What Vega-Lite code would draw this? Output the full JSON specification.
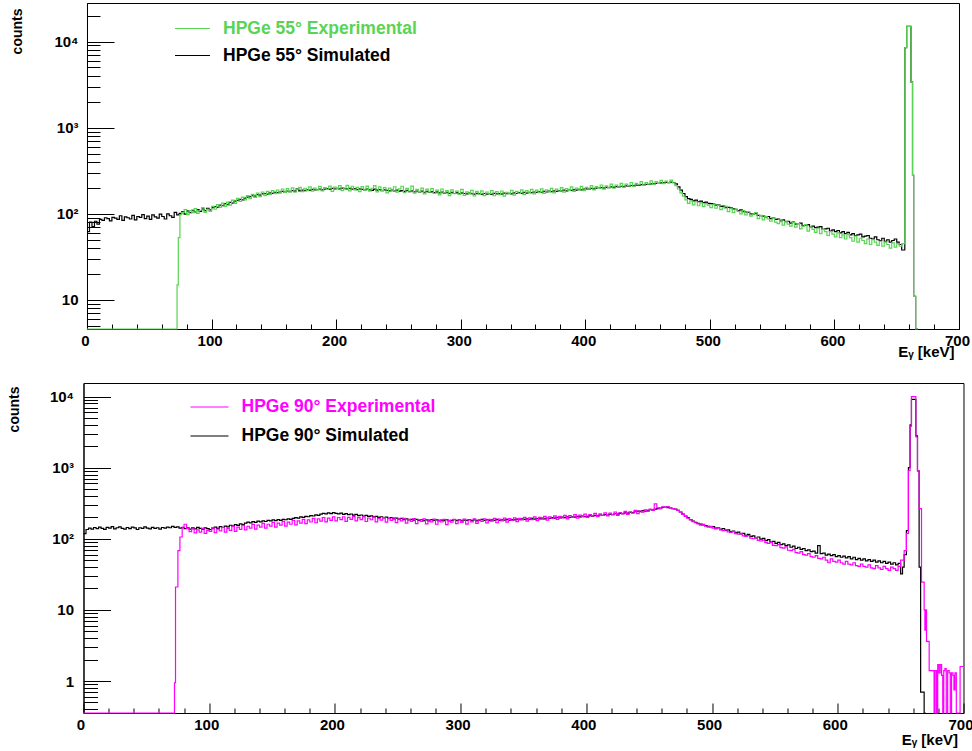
{
  "$schema": "https://vega.github.io/schema/vega-lite/v6.json",
  "background": "white",
  "padding": {"left": 6, "top": 2, "right": 0, "bottom": 0},
  "datasets": {
    "p55": [
      {"e":0,"sim":62,"exp":0},{"e":2,"sim":80,"exp":0},{"e":4,"sim":71,"exp":0},{"e":6,"sim":82,"exp":0},{"e":8,"sim":76,"exp":0},{"e":10,"sim":86,"exp":0},{"e":12,"sim":84,"exp":0},{"e":14,"sim":90,"exp":0},{"e":16,"sim":88,"exp":0},{"e":18,"sim":83,"exp":0},
      {"e":20,"sim":91,"exp":0},{"e":22,"sim":89,"exp":0},{"e":24,"sim":86,"exp":0},{"e":26,"sim":95,"exp":0},{"e":28,"sim":84,"exp":0},{"e":30,"sim":92,"exp":0},{"e":32,"sim":90,"exp":0},{"e":34,"sim":87,"exp":0},{"e":36,"sim":96,"exp":0},{"e":38,"sim":85,"exp":0},
      {"e":40,"sim":93,"exp":0},{"e":42,"sim":91,"exp":0},{"e":44,"sim":98,"exp":0},{"e":46,"sim":88,"exp":0},{"e":48,"sim":94,"exp":0},{"e":50,"sim":86,"exp":0},{"e":52,"sim":97,"exp":0},{"e":54,"sim":92,"exp":0},{"e":56,"sim":89,"exp":0},{"e":58,"sim":99,"exp":0},
      {"e":60,"sim":93,"exp":0},{"e":62,"sim":87,"exp":0},{"e":64,"sim":100,"exp":0},{"e":66,"sim":95,"exp":0},{"e":68,"sim":91,"exp":0},{"e":70,"sim":104,"exp":0},{"e":72,"sim":97,"exp":0},{"e":72.3,"sim":97,"exp":15},{"e":73.3,"sim":97,"exp":53},{"e":74,"sim":101,"exp":53},{"e":74.6,"sim":101,"exp":98},
      {"e":76,"sim":106,"exp":104},{"e":78,"sim":99,"exp":112},{"e":80,"sim":108,"exp":98},{"e":82,"sim":103,"exp":109},{"e":84,"sim":110,"exp":103},{"e":86,"sim":105,"exp":115},{"e":88,"sim":112,"exp":101},{"e":90,"sim":107,"exp":110},{"e":92,"sim":114,"exp":118},{"e":94,"sim":109,"exp":104},
      {"e":96,"sim":116,"exp":113},{"e":98,"sim":111,"exp":107},{"e":100,"sim":118,"exp":122},{"e":102,"sim":121,"exp":113},{"e":104,"sim":119,"exp":128},{"e":106,"sim":126,"exp":119},{"e":108,"sim":124,"exp":133},{"e":110,"sim":131,"exp":122},{"e":112,"sim":128,"exp":137},{"e":114,"sim":136,"exp":126},
      {"e":116,"sim":133,"exp":144},{"e":118,"sim":140,"exp":132},{"e":120,"sim":143,"exp":151},{"e":122,"sim":147,"exp":139},{"e":124,"sim":145,"exp":156},{"e":126,"sim":152,"exp":145},{"e":128,"sim":156,"exp":163},{"e":130,"sim":158,"exp":150},{"e":132,"sim":162,"exp":168},{"e":134,"sim":160,"exp":155},
      {"e":136,"sim":167,"exp":174},{"e":138,"sim":165,"exp":158},{"e":140,"sim":170,"exp":179},{"e":142,"sim":172,"exp":163},{"e":144,"sim":169,"exp":182},{"e":146,"sim":175,"exp":168},{"e":148,"sim":173,"exp":186},{"e":150,"sim":178,"exp":171},{"e":152,"sim":176,"exp":189},{"e":154,"sim":179,"exp":174},
      {"e":156,"sim":182,"exp":194},{"e":158,"sim":177,"exp":177},{"e":160,"sim":184,"exp":196},{"e":162,"sim":181,"exp":180},{"e":164,"sim":186,"exp":200},{"e":166,"sim":183,"exp":178},{"e":168,"sim":195,"exp":193},{"e":170,"sim":185,"exp":203},{"e":172,"sim":188,"exp":181},{"e":174,"sim":186,"exp":198},
      {"e":176,"sim":190,"exp":186},{"e":178,"sim":187,"exp":205},{"e":180,"sim":192,"exp":183},{"e":182,"sim":189,"exp":199},{"e":184,"sim":191,"exp":190},{"e":186,"sim":194,"exp":208},{"e":188,"sim":190,"exp":184},{"e":190,"sim":193,"exp":201},{"e":192,"sim":196,"exp":192},{"e":194,"sim":192,"exp":210},
      {"e":196,"sim":197,"exp":182},{"e":198,"sim":194,"exp":204},{"e":200,"sim":198,"exp":195},{"e":202,"sim":195,"exp":212},{"e":204,"sim":199,"exp":186},{"e":206,"sim":196,"exp":199},{"e":208,"sim":194,"exp":214},{"e":210,"sim":197,"exp":185},{"e":212,"sim":193,"exp":209},{"e":214,"sim":196,"exp":190},
      {"e":216,"sim":191,"exp":203},{"e":218,"sim":195,"exp":181},{"e":220,"sim":192,"exp":207},{"e":222,"sim":189,"exp":188},{"e":224,"sim":194,"exp":210},{"e":226,"sim":190,"exp":183},{"e":228,"sim":187,"exp":198},{"e":230,"sim":193,"exp":212},{"e":232,"sim":188,"exp":180},{"e":234,"sim":191,"exp":205},
      {"e":236,"sim":186,"exp":186},{"e":238,"sim":190,"exp":201},{"e":240,"sim":187,"exp":175},{"e":242,"sim":185,"exp":199},{"e":244,"sim":189,"exp":184},{"e":246,"sim":184,"exp":206},{"e":248,"sim":188,"exp":178},{"e":250,"sim":183,"exp":195},{"e":252,"sim":186,"exp":209},{"e":254,"sim":182,"exp":176},
      {"e":256,"sim":187,"exp":197},{"e":258,"sim":181,"exp":183},{"e":260,"sim":185,"exp":210},{"e":262,"sim":180,"exp":174},{"e":264,"sim":184,"exp":192},{"e":266,"sim":179,"exp":181},{"e":268,"sim":183,"exp":199},{"e":270,"sim":178,"exp":170},{"e":272,"sim":182,"exp":193},{"e":274,"sim":177,"exp":178},
      {"e":276,"sim":181,"exp":196},{"e":278,"sim":176,"exp":172},{"e":280,"sim":180,"exp":188},{"e":282,"sim":175,"exp":166},{"e":284,"sim":179,"exp":194},{"e":286,"sim":174,"exp":175},{"e":288,"sim":178,"exp":186},{"e":290,"sim":173,"exp":163},{"e":292,"sim":177,"exp":190},{"e":294,"sim":172,"exp":171},
      {"e":296,"sim":176,"exp":183},{"e":298,"sim":171,"exp":168},{"e":300,"sim":175,"exp":192},{"e":302,"sim":172,"exp":164},{"e":304,"sim":170,"exp":180},{"e":306,"sim":174,"exp":170},{"e":308,"sim":171,"exp":187},{"e":310,"sim":169,"exp":161},{"e":312,"sim":173,"exp":182},{"e":314,"sim":170,"exp":168},
      {"e":316,"sim":168,"exp":185},{"e":318,"sim":172,"exp":163},{"e":320,"sim":169,"exp":179},{"e":322,"sim":171,"exp":170},{"e":324,"sim":168,"exp":186},{"e":326,"sim":173,"exp":162},{"e":328,"sim":170,"exp":181},{"e":330,"sim":172,"exp":167},{"e":332,"sim":169,"exp":184},{"e":334,"sim":174,"exp":160},
      {"e":336,"sim":171,"exp":178},{"e":338,"sim":173,"exp":171},{"e":340,"sim":170,"exp":187},{"e":342,"sim":175,"exp":165},{"e":344,"sim":172,"exp":182},{"e":346,"sim":176,"exp":173},{"e":348,"sim":173,"exp":190},{"e":350,"sim":177,"exp":167},{"e":352,"sim":174,"exp":186},{"e":354,"sim":178,"exp":175},
      {"e":356,"sim":176,"exp":192},{"e":358,"sim":179,"exp":170},{"e":360,"sim":177,"exp":188},{"e":362,"sim":180,"exp":176},{"e":364,"sim":178,"exp":195},{"e":366,"sim":182,"exp":172},{"e":368,"sim":179,"exp":190},{"e":370,"sim":183,"exp":180},{"e":372,"sim":181,"exp":197},{"e":374,"sim":185,"exp":175},
      {"e":376,"sim":182,"exp":193},{"e":378,"sim":186,"exp":184},{"e":380,"sim":184,"exp":201},{"e":382,"sim":188,"exp":178},{"e":384,"sim":185,"exp":196},{"e":386,"sim":189,"exp":187},{"e":388,"sim":187,"exp":205},{"e":390,"sim":191,"exp":182},{"e":392,"sim":188,"exp":199},{"e":394,"sim":192,"exp":190},
      {"e":396,"sim":190,"exp":208},{"e":398,"sim":194,"exp":186},{"e":400,"sim":195,"exp":203},{"e":402,"sim":193,"exp":193},{"e":404,"sim":197,"exp":212},{"e":406,"sim":195,"exp":189},{"e":408,"sim":199,"exp":207},{"e":410,"sim":197,"exp":197},{"e":412,"sim":201,"exp":216},{"e":414,"sim":199,"exp":193},
      {"e":416,"sim":203,"exp":211},{"e":418,"sim":201,"exp":201},{"e":420,"sim":205,"exp":221},{"e":422,"sim":203,"exp":198},{"e":424,"sim":207,"exp":216},{"e":426,"sim":205,"exp":206},{"e":428,"sim":209,"exp":226},{"e":430,"sim":207,"exp":203},{"e":432,"sim":211,"exp":221},{"e":434,"sim":209,"exp":211},
      {"e":436,"sim":213,"exp":231},{"e":438,"sim":212,"exp":208},{"e":440,"sim":215,"exp":226},{"e":442,"sim":214,"exp":216},{"e":444,"sim":218,"exp":236},{"e":446,"sim":216,"exp":213},{"e":448,"sim":220,"exp":231},{"e":450,"sim":219,"exp":221},{"e":452,"sim":223,"exp":241},{"e":454,"sim":222,"exp":219},
      {"e":456,"sim":226,"exp":236},{"e":458,"sim":225,"exp":226},{"e":460,"sim":229,"exp":244},{"e":462,"sim":228,"exp":224},{"e":464,"sim":232,"exp":240},{"e":466,"sim":230,"exp":230},{"e":468,"sim":233,"exp":246},{"e":470,"sim":231,"exp":228},{"e":472,"sim":222,"exp":212},{"e":474,"sim":205,"exp":194},
      {"e":476,"sim":188,"exp":175},{"e":478,"sim":172,"exp":160},{"e":480,"sim":158,"exp":145},{"e":482,"sim":150,"exp":132},{"e":484,"sim":147,"exp":141},{"e":486,"sim":141,"exp":127},{"e":488,"sim":144,"exp":138},{"e":490,"sim":138,"exp":124},{"e":492,"sim":140,"exp":134},{"e":494,"sim":135,"exp":121},
      {"e":496,"sim":137,"exp":131},{"e":498,"sim":132,"exp":126},{"e":500,"sim":131,"exp":118},{"e":502,"sim":130,"exp":128},{"e":504,"sim":126,"exp":116},{"e":506,"sim":127,"exp":126},{"e":508,"sim":122,"exp":112},{"e":510,"sim":123,"exp":117},{"e":512,"sim":118,"exp":122},{"e":514,"sim":119,"exp":106},
      {"e":516,"sim":117,"exp":116},{"e":518,"sim":114,"exp":103},{"e":520,"sim":113,"exp":113},{"e":522,"sim":109,"exp":107},{"e":524,"sim":111,"exp":100},{"e":526,"sim":106,"exp":109},{"e":528,"sim":105,"exp":97},{"e":530,"sim":104,"exp":106},{"e":532,"sim":100,"exp":94},{"e":534,"sim":99,"exp":99},
      {"e":536,"sim":101,"exp":103},{"e":538,"sim":96,"exp":88},{"e":540,"sim":95,"exp":96},{"e":542,"sim":94,"exp":85},{"e":544,"sim":92,"exp":93},{"e":546,"sim":93,"exp":87},{"e":548,"sim":88,"exp":82},{"e":550,"sim":90,"exp":90},{"e":552,"sim":86,"exp":80},{"e":554,"sim":87,"exp":77},
      {"e":556,"sim":83,"exp":85},{"e":558,"sim":85,"exp":74},{"e":560,"sim":81,"exp":82},{"e":562,"sim":82,"exp":76},{"e":564,"sim":78,"exp":72},{"e":566,"sim":80,"exp":79},{"e":568,"sim":76,"exp":70},{"e":570,"sim":77,"exp":77},{"e":572,"sim":78,"exp":67},{"e":574,"sim":73,"exp":72},
      {"e":576,"sim":74,"exp":75},{"e":578,"sim":75,"exp":63},{"e":580,"sim":70,"exp":70},{"e":582,"sim":72,"exp":66},{"e":584,"sim":69,"exp":61},{"e":586,"sim":70,"exp":68},{"e":588,"sim":71,"exp":59},{"e":590,"sim":66,"exp":66},{"e":592,"sim":67,"exp":62},{"e":594,"sim":68,"exp":56},
      {"e":596,"sim":63,"exp":62},{"e":598,"sim":65,"exp":58},{"e":600,"sim":62,"exp":54},{"e":602,"sim":64,"exp":60},{"e":604,"sim":60,"exp":53},{"e":606,"sim":62,"exp":57},{"e":608,"sim":59,"exp":51},{"e":610,"sim":61,"exp":58},{"e":612,"sim":57,"exp":53},{"e":614,"sim":59,"exp":48},
      {"e":616,"sim":56,"exp":55},{"e":618,"sim":57,"exp":47},{"e":620,"sim":58,"exp":52},{"e":622,"sim":54,"exp":49},{"e":624,"sim":55,"exp":45},{"e":626,"sim":56,"exp":51},{"e":628,"sim":52,"exp":44},{"e":630,"sim":51,"exp":50},{"e":632,"sim":54,"exp":47},{"e":634,"sim":50,"exp":43},
      {"e":636,"sim":49,"exp":48},{"e":638,"sim":52,"exp":42},{"e":640,"sim":48,"exp":47},{"e":642,"sim":50,"exp":44},{"e":644,"sim":47,"exp":40},{"e":646,"sim":49,"exp":46},{"e":648,"sim":51,"exp":41},{"e":650,"sim":47,"exp":45},{"e":652,"sim":44,"exp":42},{"e":654,"sim":38,"exp":45},
      {"e":656.5,"sim":8500,"exp":8500},{"e":658,"sim":15000,"exp":15000},{"e":661.4,"sim":3400,"exp":3400},{"e":662.7,"sim":280,"exp":280},{"e":663.6,"sim":11,"exp":11},{"e":665.2,"sim":0,"exp":0},{"e":667,"sim":0,"exp":0}
    ],
    "p90": [
      {"e":0,"sim":118,"exp":0},{"e":2,"sim":135,"exp":0},{"e":4,"sim":141,"exp":0},{"e":6,"sim":137,"exp":0},{"e":8,"sim":144,"exp":0},{"e":10,"sim":139,"exp":0},{"e":12,"sim":146,"exp":0},{"e":14,"sim":140,"exp":0},{"e":16,"sim":136,"exp":0},{"e":18,"sim":145,"exp":0},
      {"e":20,"sim":141,"exp":0},{"e":22,"sim":148,"exp":0},{"e":24,"sim":138,"exp":0},{"e":26,"sim":143,"exp":0},{"e":28,"sim":147,"exp":0},{"e":30,"sim":140,"exp":0},{"e":32,"sim":137,"exp":0},{"e":34,"sim":144,"exp":0},{"e":36,"sim":139,"exp":0},{"e":38,"sim":146,"exp":0},
      {"e":40,"sim":142,"exp":0},{"e":42,"sim":135,"exp":0},{"e":44,"sim":143,"exp":0},{"e":46,"sim":140,"exp":0},{"e":48,"sim":147,"exp":0},{"e":50,"sim":141,"exp":0},{"e":52,"sim":138,"exp":0},{"e":54,"sim":145,"exp":0},{"e":56,"sim":140,"exp":0},{"e":58,"sim":143,"exp":0},
      {"e":60,"sim":137,"exp":0},{"e":62,"sim":144,"exp":0},{"e":64,"sim":141,"exp":0},{"e":66,"sim":146,"exp":0},{"e":68,"sim":143,"exp":0},{"e":70,"sim":149,"exp":0},{"e":72,"sim":145,"exp":0},{"e":72.4,"sim":145,"exp":0.94},{"e":73.2,"sim":145,"exp":21},{"e":74,"sim":147,"exp":21},
      {"e":75.1,"sim":147,"exp":68},{"e":76,"sim":141,"exp":68},{"e":76.7,"sim":141,"exp":106},{"e":78,"sim":144,"exp":106},{"e":78.5,"sim":144,"exp":146},{"e":80,"sim":139,"exp":160},{"e":82,"sim":143,"exp":140},{"e":84,"sim":137,"exp":126},{"e":86,"sim":142,"exp":138},{"e":88,"sim":138,"exp":121},
      {"e":90,"sim":145,"exp":133},{"e":92,"sim":140,"exp":124},{"e":94,"sim":136,"exp":140},{"e":96,"sim":142,"exp":119},{"e":98,"sim":139,"exp":131},{"e":100,"sim":135,"exp":127},{"e":102,"sim":141,"exp":142},{"e":104,"sim":146,"exp":122},{"e":106,"sim":140,"exp":137},{"e":108,"sim":148,"exp":129},
      {"e":110,"sim":144,"exp":145},{"e":112,"sim":151,"exp":124},{"e":114,"sim":147,"exp":140},{"e":116,"sim":155,"exp":131},{"e":118,"sim":151,"exp":149},{"e":120,"sim":158,"exp":127},{"e":122,"sim":154,"exp":146},{"e":124,"sim":162,"exp":136},{"e":126,"sim":158,"exp":154},{"e":128,"sim":166,"exp":133},
      {"e":130,"sim":171,"exp":150},{"e":132,"sim":167,"exp":141},{"e":134,"sim":174,"exp":159},{"e":136,"sim":170,"exp":137},{"e":138,"sim":177,"exp":156},{"e":140,"sim":173,"exp":146},{"e":142,"sim":179,"exp":165},{"e":144,"sim":175,"exp":141},{"e":146,"sim":182,"exp":160},{"e":148,"sim":178,"exp":151},
      {"e":150,"sim":184,"exp":170},{"e":152,"sim":180,"exp":146},{"e":154,"sim":186,"exp":166},{"e":156,"sim":182,"exp":156},{"e":158,"sim":188,"exp":176},{"e":160,"sim":185,"exp":151},{"e":162,"sim":191,"exp":171},{"e":164,"sim":187,"exp":160},{"e":166,"sim":194,"exp":181},{"e":168,"sim":198,"exp":157},
      {"e":170,"sim":195,"exp":178},{"e":172,"sim":203,"exp":166},{"e":174,"sim":200,"exp":188},{"e":176,"sim":207,"exp":163},{"e":178,"sim":204,"exp":184},{"e":180,"sim":212,"exp":172},{"e":182,"sim":209,"exp":193},{"e":184,"sim":217,"exp":168},{"e":186,"sim":214,"exp":190},{"e":188,"sim":222,"exp":177},
      {"e":190,"sim":227,"exp":199},{"e":192,"sim":224,"exp":173},{"e":194,"sim":231,"exp":195},{"e":196,"sim":226,"exp":182},{"e":198,"sim":233,"exp":203},{"e":200,"sim":228,"exp":178},{"e":202,"sim":224,"exp":199},{"e":204,"sim":230,"exp":186},{"e":206,"sim":221,"exp":204},{"e":208,"sim":226,"exp":176},
      {"e":210,"sim":218,"exp":200},{"e":212,"sim":223,"exp":188},{"e":214,"sim":215,"exp":205},{"e":216,"sim":220,"exp":179},{"e":218,"sim":212,"exp":198},{"e":220,"sim":216,"exp":186},{"e":222,"sim":209,"exp":203},{"e":224,"sim":213,"exp":175},{"e":226,"sim":206,"exp":196},{"e":228,"sim":210,"exp":185},
      {"e":230,"sim":203,"exp":201},{"e":232,"sim":207,"exp":173},{"e":234,"sim":200,"exp":194},{"e":236,"sim":204,"exp":183},{"e":238,"sim":197,"exp":199},{"e":240,"sim":201,"exp":171},{"e":242,"sim":194,"exp":192},{"e":244,"sim":198,"exp":181},{"e":246,"sim":191,"exp":197},{"e":248,"sim":195,"exp":169},
      {"e":250,"sim":189,"exp":190},{"e":252,"sim":193,"exp":179},{"e":254,"sim":186,"exp":194},{"e":256,"sim":190,"exp":166},{"e":258,"sim":184,"exp":188},{"e":260,"sim":188,"exp":176},{"e":262,"sim":183,"exp":192},{"e":264,"sim":187,"exp":163},{"e":266,"sim":181,"exp":186},{"e":268,"sim":185,"exp":175},
      {"e":270,"sim":180,"exp":190},{"e":272,"sim":184,"exp":162},{"e":274,"sim":179,"exp":184},{"e":276,"sim":186,"exp":173},{"e":278,"sim":181,"exp":189},{"e":280,"sim":184,"exp":160},{"e":282,"sim":178,"exp":183},{"e":284,"sim":183,"exp":172},{"e":286,"sim":180,"exp":188},{"e":288,"sim":185,"exp":158},
      {"e":290,"sim":179,"exp":182},{"e":292,"sim":182,"exp":171},{"e":294,"sim":186,"exp":187},{"e":296,"sim":180,"exp":163},{"e":298,"sim":184,"exp":185},{"e":300,"sim":178,"exp":170},{"e":302,"sim":183,"exp":189},{"e":304,"sim":181,"exp":161},{"e":306,"sim":186,"exp":184},{"e":308,"sim":180,"exp":173},
      {"e":310,"sim":184,"exp":190},{"e":312,"sim":179,"exp":165},{"e":314,"sim":183,"exp":186},{"e":316,"sim":187,"exp":175},{"e":318,"sim":181,"exp":191},{"e":320,"sim":185,"exp":167},{"e":322,"sim":180,"exp":188},{"e":324,"sim":184,"exp":177},{"e":326,"sim":182,"exp":193},{"e":328,"sim":187,"exp":168},
      {"e":330,"sim":181,"exp":189},{"e":332,"sim":185,"exp":178},{"e":334,"sim":183,"exp":195},{"e":336,"sim":188,"exp":171},{"e":338,"sim":182,"exp":192},{"e":340,"sim":186,"exp":181},{"e":342,"sim":184,"exp":197},{"e":344,"sim":189,"exp":174},{"e":346,"sim":185,"exp":194},{"e":348,"sim":190,"exp":184},
      {"e":350,"sim":187,"exp":200},{"e":352,"sim":191,"exp":177},{"e":354,"sim":188,"exp":197},{"e":356,"sim":193,"exp":186},{"e":358,"sim":189,"exp":203},{"e":360,"sim":192,"exp":180},{"e":362,"sim":190,"exp":200},{"e":364,"sim":195,"exp":189},{"e":366,"sim":191,"exp":206},{"e":368,"sim":196,"exp":183},
      {"e":370,"sim":193,"exp":203},{"e":372,"sim":198,"exp":193},{"e":374,"sim":195,"exp":210},{"e":376,"sim":200,"exp":187},{"e":378,"sim":196,"exp":207},{"e":380,"sim":201,"exp":196},{"e":382,"sim":198,"exp":213},{"e":384,"sim":203,"exp":191},{"e":386,"sim":199,"exp":211},{"e":388,"sim":204,"exp":200},
      {"e":390,"sim":201,"exp":218},{"e":392,"sim":206,"exp":195},{"e":394,"sim":203,"exp":215},{"e":396,"sim":208,"exp":205},{"e":398,"sim":204,"exp":222},{"e":400,"sim":207,"exp":200},{"e":402,"sim":211,"exp":219},{"e":404,"sim":208,"exp":209},{"e":406,"sim":214,"exp":227},{"e":408,"sim":210,"exp":204},
      {"e":410,"sim":216,"exp":224},{"e":412,"sim":213,"exp":214},{"e":414,"sim":219,"exp":232},{"e":416,"sim":216,"exp":209},{"e":418,"sim":222,"exp":229},{"e":420,"sim":219,"exp":219},{"e":422,"sim":225,"exp":238},{"e":424,"sim":222,"exp":214},{"e":426,"sim":228,"exp":234},{"e":428,"sim":225,"exp":224},
      {"e":430,"sim":232,"exp":243},{"e":432,"sim":229,"exp":220},{"e":434,"sim":236,"exp":240},{"e":436,"sim":233,"exp":230},{"e":438,"sim":240,"exp":250},{"e":440,"sim":244,"exp":226},{"e":442,"sim":241,"exp":246},{"e":444,"sim":248,"exp":237},{"e":446,"sim":245,"exp":256},{"e":448,"sim":252,"exp":243},
      {"e":450,"sim":256,"exp":262},{"e":452,"sim":253,"exp":251},{"e":454,"sim":261,"exp":310},{"e":456,"sim":265,"exp":272},{"e":458,"sim":270,"exp":266},{"e":460,"sim":276,"exp":280},{"e":462,"sim":279,"exp":276},{"e":464,"sim":274,"exp":283},{"e":466,"sim":271,"exp":272},{"e":468,"sim":266,"exp":265},
      {"e":470,"sim":262,"exp":258},{"e":472,"sim":252,"exp":250},{"e":474,"sim":238,"exp":236},{"e":476,"sim":222,"exp":220},{"e":478,"sim":208,"exp":206},{"e":480,"sim":198,"exp":195},{"e":482,"sim":186,"exp":184},{"e":484,"sim":177,"exp":174},{"e":486,"sim":170,"exp":168},{"e":488,"sim":165,"exp":162},
      {"e":490,"sim":161,"exp":156},{"e":492,"sim":157,"exp":160},{"e":494,"sim":153,"exp":150},{"e":496,"sim":150,"exp":146},{"e":498,"sim":147,"exp":149},{"e":500,"sim":148,"exp":141},{"e":502,"sim":141,"exp":138},{"e":504,"sim":143,"exp":141},{"e":506,"sim":136,"exp":133},{"e":508,"sim":139,"exp":130},
      {"e":510,"sim":131,"exp":133},{"e":512,"sim":133,"exp":125},{"e":514,"sim":126,"exp":123},{"e":516,"sim":128,"exp":126},{"e":518,"sim":121,"exp":118},{"e":520,"sim":124,"exp":116},{"e":522,"sim":117,"exp":119},{"e":524,"sim":119,"exp":110},{"e":526,"sim":112,"exp":108},{"e":528,"sim":115,"exp":111},
      {"e":530,"sim":108,"exp":102},{"e":532,"sim":110,"exp":100},{"e":534,"sim":103,"exp":104},{"e":536,"sim":106,"exp":95},{"e":538,"sim":99,"exp":93},{"e":540,"sim":101,"exp":96},{"e":542,"sim":94,"exp":88},{"e":544,"sim":97,"exp":86},{"e":546,"sim":90,"exp":89},{"e":548,"sim":92,"exp":81},
      {"e":550,"sim":86,"exp":80},{"e":552,"sim":89,"exp":83},{"e":554,"sim":83,"exp":75},{"e":556,"sim":85,"exp":74},{"e":558,"sim":80,"exp":77},{"e":560,"sim":82,"exp":69},{"e":562,"sim":76,"exp":68},{"e":564,"sim":79,"exp":71},{"e":566,"sim":73,"exp":64},{"e":568,"sim":76,"exp":63},
      {"e":570,"sim":71,"exp":66},{"e":572,"sim":73,"exp":60},{"e":574,"sim":68,"exp":59},{"e":576,"sim":70,"exp":62},{"e":578,"sim":66,"exp":56},{"e":580,"sim":67,"exp":55},{"e":582,"sim":63,"exp":58},{"e":584,"sim":80,"exp":53},{"e":586,"sim":62,"exp":52},{"e":588,"sim":63,"exp":55},
      {"e":590,"sim":59,"exp":50},{"e":592,"sim":61,"exp":46},{"e":594,"sim":58,"exp":52},{"e":596,"sim":60,"exp":48},{"e":598,"sim":56,"exp":47},{"e":600,"sim":58,"exp":50},{"e":602,"sim":55,"exp":46},{"e":604,"sim":57,"exp":44},{"e":606,"sim":54,"exp":48},{"e":608,"sim":56,"exp":44},
      {"e":610,"sim":52,"exp":43},{"e":612,"sim":55,"exp":46},{"e":614,"sim":51,"exp":42},{"e":616,"sim":53,"exp":41},{"e":618,"sim":50,"exp":44},{"e":620,"sim":52,"exp":41},{"e":622,"sim":49,"exp":40},{"e":624,"sim":51,"exp":43},{"e":626,"sim":48,"exp":39},{"e":628,"sim":50,"exp":38},
      {"e":630,"sim":47,"exp":42},{"e":632,"sim":49,"exp":39},{"e":634,"sim":46,"exp":37},{"e":636,"sim":48,"exp":41},{"e":638,"sim":45,"exp":38},{"e":640,"sim":47,"exp":36},{"e":642,"sim":44,"exp":40},{"e":644,"sim":46,"exp":38},{"e":646,"sim":43,"exp":36},{"e":648,"sim":45,"exp":41},
      {"e":650,"sim":32,"exp":50},{"e":651.5,"sim":40,"exp":50},{"e":652.8,"sim":60,"exp":68},{"e":654.6,"sim":130,"exp":119},{"e":656.2,"sim":1000,"exp":910},{"e":657.5,"sim":4000,"exp":3800},{"e":658.6,"sim":9100,"exp":10000},{"e":662.1,"sim":2800,"exp":2700},{"e":663.4,"sim":900,"exp":910},{"e":664.7,"sim":40,"exp":265},
      {"e":665.9,"sim":0.7,"exp":265},{"e":666.6,"sim":0.7,"exp":24.6},{"e":668.7,"sim":0,"exp":10},{"e":669.3,"sim":0,"exp":5.2},{"e":669.9,"sim":0,"exp":10},{"e":670.6,"exp":3.6},{"e":672.7,"exp":1.4},{"e":676.6,"exp":0},{"e":677.4,"exp":1.4},{"e":678.6,"exp":0},
      {"e":679.5,"exp":1.7},{"e":680.5,"exp":1.3},{"e":681.5,"exp":1.7},{"e":682.6,"exp":1.2},{"e":683.5,"exp":0},{"e":684.3,"exp":1.4},{"e":685.2,"exp":1.5},{"e":686.3,"exp":0},{"e":687.4,"exp":1.4},{"e":688.6,"exp":1.3},
      {"e":689.5,"exp":0},{"e":690.5,"exp":1.3},{"e":691.6,"exp":1.2},{"e":692.4,"exp":0.75},{"e":693.2,"exp":1.3},{"e":694.3,"exp":0},{"e":697.3,"exp":1.6},{"e":700,"exp":1.6}
    ]
  },
  "config": {
    "font": "Liberation Sans",
    "view": {"stroke": "black", "strokeWidth": 1},
    "axis": {
      "grid": false, "domainColor": "black", "domainWidth": 1, "tickColor": "black", "tickWidth": 1,
      "labelFont": "Liberation Sans", "labelFontWeight": "bold", "labelFontSize": 15, "labelColor": "black",
      "labelOverlap": false, "labelBound": false, "labelFlush": false,
      "titleFont": "Liberation Sans", "titleFontWeight": "bold", "titleFontSize": 14, "titleColor": "black"
    },
    "legend": {
      "labelFont": "Liberation Sans", "labelFontSize": 17.5, "labelFontWeight": "bold", "labelLimit": 400,
      "symbolType": "stroke", "symbolStrokeWidth": 2, "padding": 0, "offset": 0, "rowPadding": 0
    },
    "line": {"strokeWidth": 1.2, "interpolate": "step-after"}
  },
  "spacing": 22,
  "center": true,
  "resolve": {
    "scale": {"x": "independent", "y": "independent", "color": "independent"},
    "axis": {"x": "independent", "y": "independent"},
    "legend": {"color": "independent"}
  },
  "vconcat": [
    {
      "width": 872,
      "height": 326,
      "data": {"name": "p55"},
      "encoding": {
        "x": {
          "field": "e", "type": "quantitative",
          "scale": {"domain": [0, 700], "nice": false, "zero": false},
          "axis": {
            "values": [0,20,40,60,80,100,120,140,160,180,200,220,240,260,280,300,320,340,360,380,400,420,440,460,480,500,520,540,560,580,600,620,640,660,680,700],
            "labelExpr": "datum.value % 100 === 0 ? datum.label : ''",
            "tickSize": {"condition": {"test": "datum.value % 100 === 0", "value": -10}, "value": -5},
            "labelPadding": 14, "labelOffset": -2,
            "title": "Eᵧ [keV]", "titleX": 867, "titleY": 22, "titleAlign": "right", "titleBaseline": "middle", "titleFontSize": 15
          }
        }
      },
      "layer": [
        {
          "mark": {"type": "line", "color": "black"},
          "encoding": {
            "y": {
              "field": "sim", "type": "quantitative", "title": "counts",
              "scale": {"type": "log", "domain": [4.6, 28000], "nice": false, "clamp": true},
              "axis": {
                "values": [5,6,7,8,9,10,20,30,40,50,60,70,80,90,100,200,300,400,500,600,700,800,900,1000,2000,3000,4000,5000,6000,7000,8000,9000,10000,20000],
                "labelExpr": "datum.value === 10 ? '10' : datum.value === 100 ? '10²' : datum.value === 1000 ? '10³' : datum.value === 10000 ? '10⁴' : ''",
                "tickSize": {"condition": {"test": "indexof([10,100,1000,10000], datum.value) >= 0", "value": -27}, "value": -13},
                "labelPadding": 36,
                "titleX": -69, "titleY": 5, "titleAngle": 270, "titleAlign": "right", "titleBaseline": "middle"
              }
            },
            "color": {
              "datum": "HPGe 55° Simulated",
              "scale": {"domain": ["HPGe 55° Experimental", "HPGe 55° Simulated"], "range": ["#59d454", "#000000"]},
              "legend": {
                "orient": "none", "legendX": 87, "legendY": 7, "title": null,
                "symbolSize": 1225, "labelOffset": 12,
                "labelColor": {"expr": "datum.value === 'HPGe 55° Experimental' ? '#59d454' : '#000000'"}
              }
            }
          }
        },
        {
          "mark": {"type": "line"},
          "encoding": {
            "y": {"field": "exp", "type": "quantitative", "title": "counts"},
            "color": {"datum": "HPGe 55° Experimental"}
          }
        }
      ]
    },
    {
      "width": 880,
      "height": 330,
      "data": {"name": "p90"},
      "encoding": {
        "x": {
          "field": "e", "type": "quantitative",
          "scale": {"domain": [0, 700], "nice": false, "zero": false},
          "axis": {
            "values": [0,20,40,60,80,100,120,140,160,180,200,220,240,260,280,300,320,340,360,380,400,420,440,460,480,500,520,540,560,580,600,620,640,660,680,700],
            "labelExpr": "datum.value % 100 === 0 ? datum.label : ''",
            "tickSize": {"condition": {"test": "datum.value % 100 === 0", "value": -10}, "value": -5},
            "labelPadding": 14, "labelOffset": -3,
            "title": "Eᵧ [keV]", "titleX": 874, "titleY": 26, "titleAlign": "right", "titleBaseline": "middle", "titleFontSize": 15
          }
        }
      },
      "layer": [
        {
          "mark": {"type": "line", "color": "black"},
          "encoding": {
            "y": {
              "field": "sim", "type": "quantitative", "title": "counts",
              "scale": {"type": "log", "domain": [0.355, 15500], "nice": false, "clamp": true},
              "axis": {
                "values": [0.4,0.5,0.6,0.7,0.8,0.9,1,2,3,4,5,6,7,8,9,10,20,30,40,50,60,70,80,90,100,200,300,400,500,600,700,800,900,1000,2000,3000,4000,5000,6000,7000,8000,9000,10000],
                "labelExpr": "datum.value === 1 ? '1' : datum.value === 10 ? '10' : datum.value === 100 ? '10²' : datum.value === 1000 ? '10³' : datum.value === 10000 ? '10⁴' : ''",
                "tickSize": {"condition": {"test": "indexof([1,10,100,1000,10000], datum.value) >= 0", "value": -27}, "value": -14},
                "labelPadding": 37,
                "titleX": -69, "titleY": 3, "titleAngle": 270, "titleAlign": "right", "titleBaseline": "middle"
              }
            },
            "color": {
              "datum": "HPGe 90° Simulated",
              "scale": {"domain": ["HPGe 90° Experimental", "HPGe 90° Simulated"], "range": ["#ff00ff", "#000000"]},
              "legend": {
                "orient": "none", "legendX": 106, "legendY": 4, "title": null,
                "symbolSize": 1444, "labelOffset": 12,
                "labelColor": {"expr": "datum.value === 'HPGe 90° Experimental' ? '#ff00ff' : '#000000'"}
              }
            }
          }
        },
        {
          "mark": {"type": "line"},
          "encoding": {
            "y": {"field": "exp", "type": "quantitative", "title": "counts"},
            "color": {"datum": "HPGe 90° Experimental"}
          }
        }
      ]
    }
  ]
}
